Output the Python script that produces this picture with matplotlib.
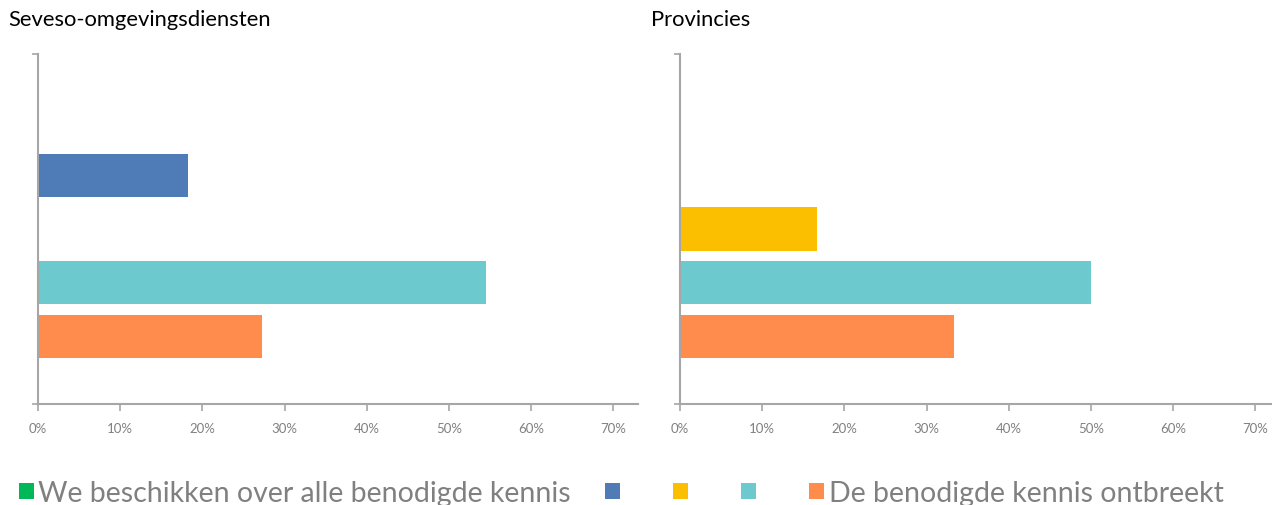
import matplotlib
matplotlib.use("Agg")
import matplotlib.pyplot as plt
from matplotlib.ticker import PercentFormatter

plt.rcParams['font.family'] = ['Lato', 'DejaVu Sans']

series_labels = ["We beschikken over alle benodigde kennis", "  ", "  ", "  ", "De benodigde kennis ontbreekt"]
series_colors = ["#00B858", "#4F7BB6", "#FBBF00", "#6CC9CD", "#FF8B4D"]
panel_titles = ["Seveso-omgevingsdiensten", "Provincies"]
seveso_values = [0.0, 0.182, 0.0, 0.545, 0.273]
provincies_values = [0.0, 0.0, 0.167, 0.50, 0.333]
x_ticks = [0, 0.1, 0.2, 0.3, 0.4, 0.5, 0.6, 0.7]

W, H = 1272, 506
fig = plt.figure(figsize=(W / 100, H / 100), dpi=100)

axis_color = "#A6A6A6"
label_color = "#808080"

lefts = [38, 680]
handles = None
for i, (vals, title) in enumerate(zip([seveso_values, provincies_values], panel_titles)):
    ax = fig.add_axes([lefts[i] / W, 101 / H, 600 / W, 350 / H])
    bars = []
    for j, v in enumerate(vals):
        b = ax.barh(j, v, height=0.8, color=series_colors[j], label=series_labels[j])
        bars.append(b)
    if handles is None:
        handles = bars
    ax.set_xlim(0, 0.73)
    ax.set_ylim(4 + 1.25, -1.25)
    ax.set_xticks(x_ticks)
    ax.xaxis.set_major_formatter(PercentFormatter(1.0, decimals=0))
    ax.set_yticks([-1.25, 5.25])
    ax.set_yticklabels([])
    for s in ["top", "right"]:
        ax.spines[s].set_visible(False)
    for s in ["left", "bottom"]:
        ax.spines[s].set_color(axis_color)
        ax.spines[s].set_linewidth(1.5)
    ax.tick_params(axis="x", colors=axis_color, labelcolor=label_color, labelsize=9.5,
                   length=5, width=1.2, pad=8)
    ax.tick_params(axis="y", colors=axis_color, length=4, width=1.2)
    ax.set_facecolor("white")
    fig.text((8 if i == 0 else 651) / W, 1 - 20 / H, title, fontsize=15.8, color="#000000",
             ha="left", va="center")

leg = fig.legend(handles=handles, labels=series_labels, loc="center left",
                 bbox_to_anchor=(19 / W, 1 - 494 / H), ncol=5, frameon=False,
                 fontsize=20.5, handlelength=0.53, handleheight=0.53, handletextpad=0.15,
                 columnspacing=1.2, borderpad=0, borderaxespad=0)
for t in leg.get_texts():
    t.set_color(label_color)

fig.savefig("out.png", dpi=100, facecolor="white")
